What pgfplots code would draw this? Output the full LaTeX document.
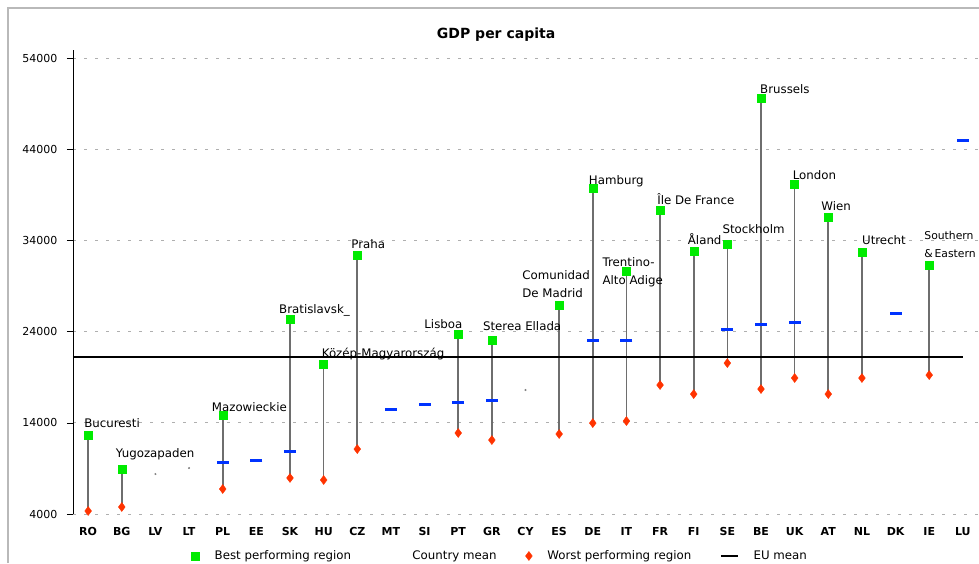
\documentclass[border=0pt]{standalone}
\usepackage{pgfplots}
\pgfplotsset{compat=1.18}
\usepackage{pgfplotstable}
\usepackage{fontspec}
\setmainfont{DejaVu Sans}

\definecolor{bestgreen}{RGB}{0,235,0}
\definecolor{meanblue}{RGB}{0,51,255}
\definecolor{worstred}{RGB}{255,51,0}
\definecolor{stemgray}{RGB}{110,110,110}
\definecolor{gridgray}{RGB}{175,175,175}

\pgfplotstableread{
x best worst
0 12660 4330
1 8930 4770
4 14850 6740
6 25370 7950
7 20440 7730
8 32390 11120
11 23730 12880
12 23070 12110
14 26900 12770
15 39730 13970
16 30630 14190
17 37320 18140
18 32820 17150
19 33590 20550
20 49590 17700
21 40170 18910
22 36550 17150
23 32720 18910
25 31290 19230
}\regions

\pgfplotstableread{
x mean
4 9700
5 9920
6 10900
9 15500
10 16060
11 16280
12 16500
15 23070
16 23070
19 24280
20 24820
21 25040
24 26030
26 45000
}\means

\pgfplotstableread{
x val
2 8380
3 9040
13 17590
}\singles

\begin{document}
\begin{tikzpicture}[lbl/.style={anchor=base west, font=\fontsize{11.8}{14}\selectfont, inner sep=0pt}]
\begin{axis}[name=ax, scale only axis, width=906pt, height=464pt,
  xmin=-0.45, xmax=26.48, ymin=4000, ymax=54880,
  axis lines=left, axis line style={-, line width=0.8pt},
  x axis line style={draw=none},
  xtick={0,...,26},
  xticklabels={RO,BG,LV,LT,PL,EE,SK,HU,CZ,MT,SI,PT,GR,CY,ES,DE,IT,FR,FI,SE,BE,UK,AT,NL,DK,IE,LU},
  ytick={4000,14000,24000,34000,44000,54000},
  scaled y ticks=false,
  x tick style={draw=none},
  y tick style={black, line width=0.6pt},
  tick align=outside, major tick length=6pt,
  ymajorgrids, grid style={gridgray, line width=0.7pt, dash pattern=on 3pt off 8pt},
  yticklabel style={font=\fontsize{11}{13}\selectfont, xshift=-6pt, /pgf/number format/.cd, set thousands separator={}, assume math mode=true},
  xticklabel style={font=\bfseries\fontsize{11}{13}\selectfont, yshift=-4pt},
  title={GDP per capita},
  title style={font=\bfseries\fontsize{14}{16}\selectfont, at={(0.467,1.020)}, anchor=center},
  legend style={at={(0.4716,-0.0905)}, anchor=center, draw=none, legend columns=4,
    font=\fontsize{11.8}{14}\selectfont,
    /tikz/every odd column/.append style={column sep=13pt},
    /tikz/every even column/.append style={column sep=27pt}},
  legend cell align=left,
  clip=false,
]
% stems
\addplot[only marks, mark=none, forget plot,
  error bars/.cd, y dir=minus, y explicit,
  error bar style={draw=stemgray, solid, line width=1.7pt}, error mark=none]
  table[x=x, y=best, y error minus expr=\thisrow{best}-\thisrow{worst}] {\regions};
% EU mean
\addplot[black, line width=1.2pt, forget plot] coordinates {(-0.45,21210) (26,21210)};
% worst
\addplot[only marks, mark=diamond*, mark size=4.5pt, color=worstred, forget plot]
  table[x=x, y=worst] {\regions};
% best
\addplot[only marks, mark=square*, mark size=4pt, color=bestgreen, forget plot]
  table[x=x, y=best] {\regions};
% country mean
\addplot[only marks, mark=-, mark size=6pt, color=meanblue, mark options={line width=3pt}, forget plot]
  table[x=x, y=mean] {\means};
% single-region countries
\addplot[only marks, mark=*, mark size=0.8pt, color=gray, forget plot]
  table[x=x, y=val] {\singles};

\addlegendimage{only marks, mark=square*, mark size=4pt, color=bestgreen}
\addlegendentry{Best performing region}
\addlegendimage{color=white}
\addlegendentry{Country mean}
\addlegendimage{only marks, mark=diamond*, mark size=4.5pt, color=worstred}
\addlegendentry{Worst performing region}
\addlegendimage{black, line width=1.2pt}
\addlegendentry{EU mean}

\node[lbl, xshift=-4pt, yshift=8pt] at (axis cs:0,12660) {Bucuresti};
\node[lbl, xshift=-6pt, yshift=12pt] at (axis cs:1,8930) {Yugozapaden};
\node[lbl, xshift=-11pt, yshift=4pt] at (axis cs:4,14850) {Mazowieckie};
\node[lbl, xshift=-11pt, yshift=6pt] at (axis cs:6,25370) {Bratislavsk\_};
\node[lbl, xshift=-2pt, yshift=7pt] at (axis cs:7,20440) {Közép-Magyarország};
\node[lbl, xshift=-6pt, yshift=7pt] at (axis cs:8,32390) {Praha};
\node[lbl, xshift=-34pt, yshift=6pt] at (axis cs:11,23730) {Lisboa};
\node[lbl, xshift=-9pt, yshift=10pt] at (axis cs:12,23070) {Sterea Ellada};
\node[lbl, xshift=-37pt, yshift=26pt] at (axis cs:14,26900) {Comunidad};
\node[lbl, xshift=-37pt, yshift=8pt] at (axis cs:14,26900) {De Madrid};
\node[lbl, xshift=-4pt, yshift=4pt] at (axis cs:15,39730) {Hamburg};
\node[lbl, xshift=-24pt, yshift=5pt] at (axis cs:16,30630) {Trentino-};
\node[lbl, xshift=-24pt, yshift=-13pt] at (axis cs:16,30630) {Alto Adige};
\node[lbl, xshift=-3pt, yshift=6pt] at (axis cs:17,37320) {Île De France};
\node[lbl, xshift=-6pt, yshift=7pt] at (axis cs:18,32820) {Åland};
\node[lbl, xshift=-5pt, yshift=11pt] at (axis cs:19,33590) {Stockholm};
\node[lbl, xshift=-1pt, yshift=5pt] at (axis cs:20,49590) {Brussels};
\node[lbl, xshift=-2pt, yshift=5pt] at (axis cs:21,40170) {London};
\node[lbl, xshift=-7pt, yshift=7pt] at (axis cs:22,36550) {Wien};
\node[lbl, xshift=0pt, yshift=8pt] at (axis cs:23,32720) {Utrecht};
\node[lbl, font=\fontsize{10.8}{13}\selectfont, xshift=-5pt, yshift=26pt] at (axis cs:25,31290) {Southern};
\node[lbl, font=\fontsize{10.8}{13}\selectfont, xshift=-5pt, yshift=8pt] at (axis cs:25,31290) {\&\,Eastern};
\end{axis}
\draw[shift={(ax.south west)}, gray!55, line width=1.5pt] (-65pt,-49pt) -- (-65pt,506pt) -- (906pt,506pt);
\pgfresetboundingbox
\path[use as bounding box, shift={(ax.south west)}] (-73pt,-49pt) rectangle (906pt,514pt);
\end{tikzpicture}
\end{document}
